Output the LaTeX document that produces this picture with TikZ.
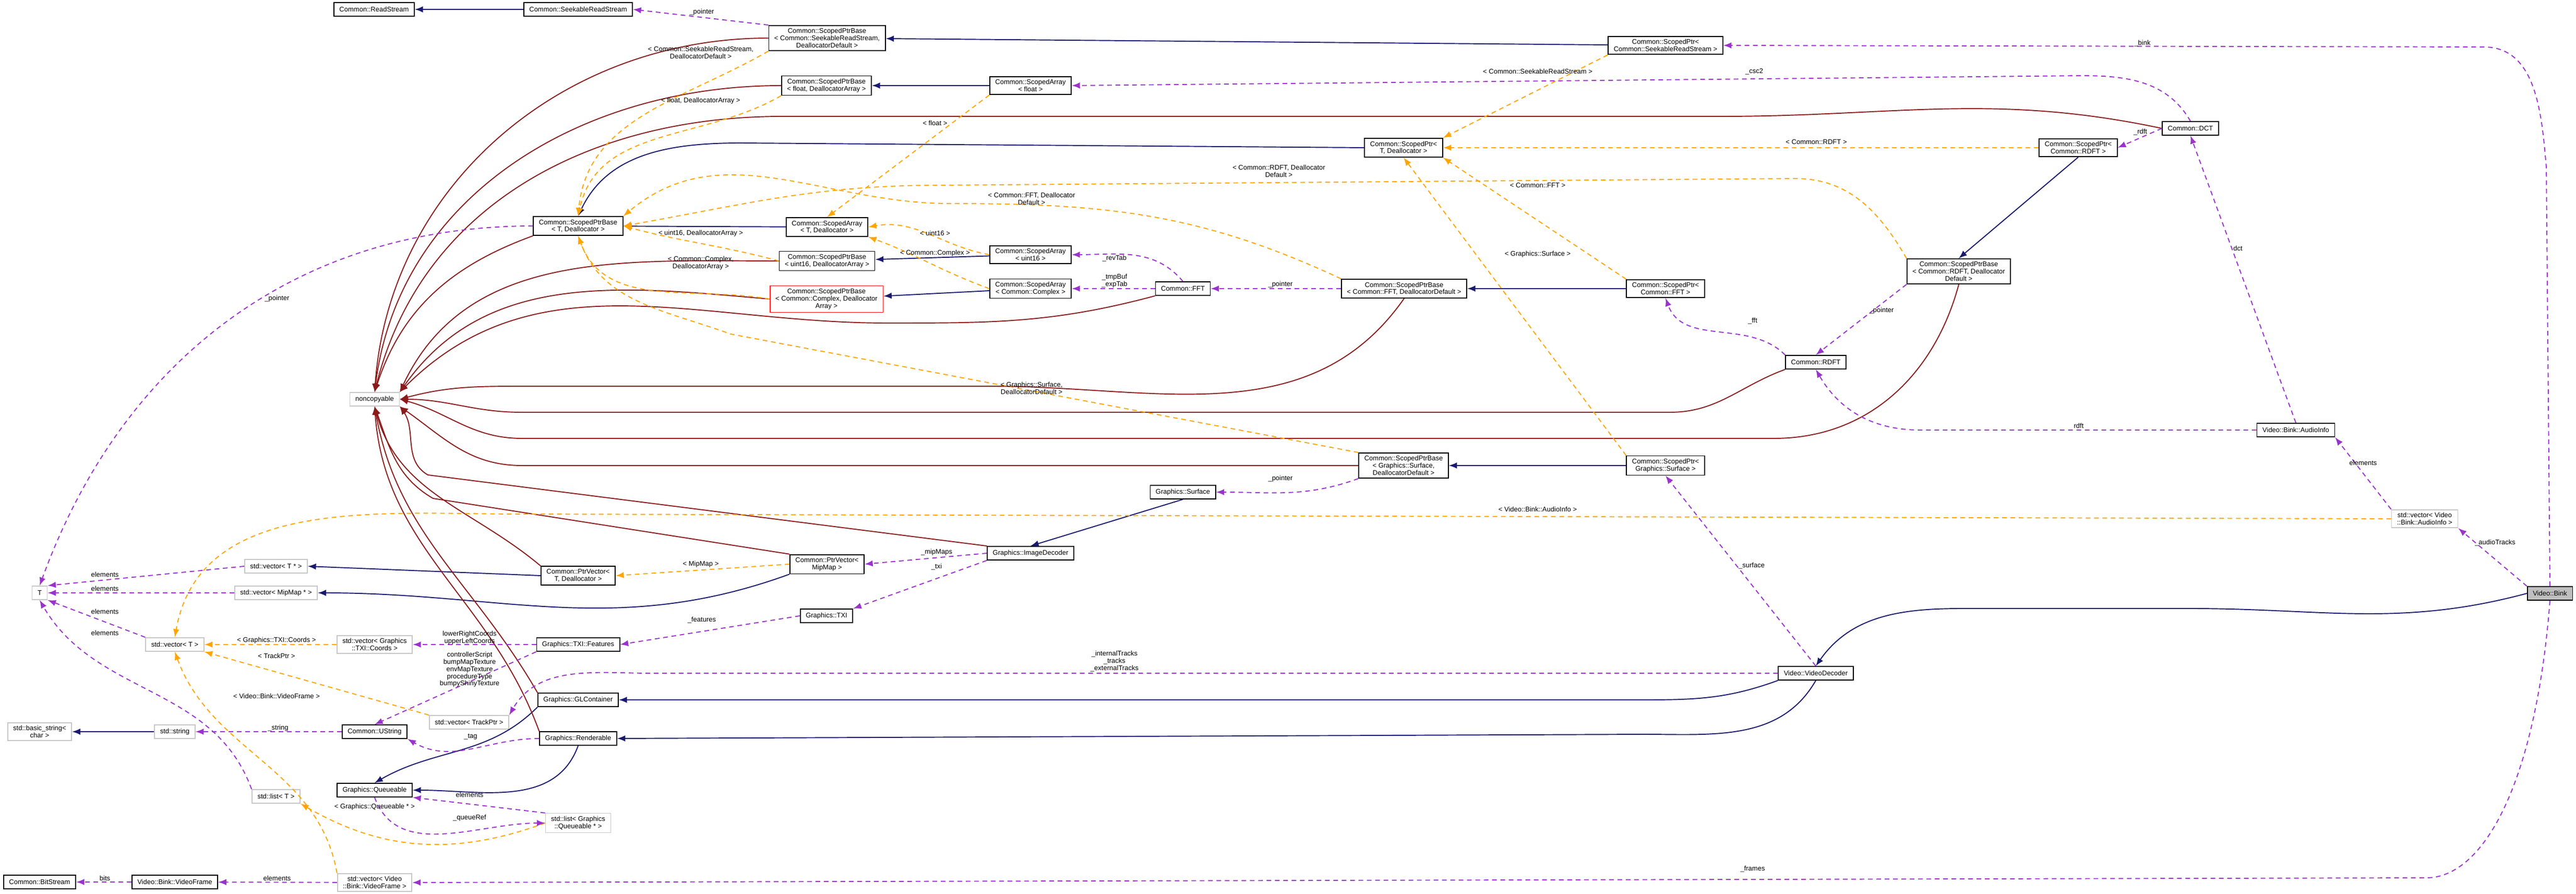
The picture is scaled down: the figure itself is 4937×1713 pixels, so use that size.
\documentclass[tikz,border=0pt]{standalone}
\usepackage{fontspec}
\setmainfont{Liberation Sans}
\usetikzlibrary{arrows}
\newcommand\nodefont{\fontsize{3.7}{3.9}\selectfont}
\definecolor{navy}{HTML}{191970}
\definecolor{darkred}{HTML}{8B1A1A}
\definecolor{tmplorange}{HTML}{FFA500}
\definecolor{usepurple}{HTML}{9A32CD}
\tikzstyle{cls}=[draw=black, rectangle, line width=0.5pt, inner xsep=3pt, inner ysep=1.6pt, align=center, minimum height=0.26cm, font=\nodefont]
\tikzstyle{ext}=[cls, draw=gray!45]
\tikzstyle{bad}=[cls, draw=red]
\tikzstyle{self}=[cls, fill=gray!50]
\tikzstyle{inherit}=[-latex, line width=0.55pt, navy]
\tikzstyle{priv}=[-latex, line width=0.55pt, darkred]
\tikzstyle{tmpl}=[-latex, line width=0.55pt, tmplorange, dash pattern=on 0.09cm off 0.07cm]
\tikzstyle{use}=[-latex, line width=0.55pt, usepurple, dash pattern=on 0.09cm off 0.07cm]
\tikzstyle{lbl}=[font=\nodefont, align=center, inner sep=0pt]

\begin{document}
\begin{tikzpicture}[x=0.01cm, y=0.01cm]
  \useasboundingbox (0,0) rectangle (4937,-1713);

  %% Scoped pointers and arrays
  \draw (717,-18) node[cls] (RS) {Common::ReadStream};
  \draw (1108,-18) node[cls] (SRS) {Common::SeekableReadStream};
  \draw (1585,-73) node[cls] (SPBsrs) {Common::ScopedPtrBase\\< Common::SeekableReadStream,\\ DeallocatorDefault >};
  \draw (1584,-164) node[cls] (SPBflt) {Common::ScopedPtrBase\\< float, DeallocatorArray >};
  \draw (1108,-433) node[cls] (SPBT) {Common::ScopedPtrBase\\< T, Deallocator >};
  \draw (1585,-435) node[cls] (SAT) {Common::ScopedArray\\< T, Deallocator >};
  \draw (1585,-500) node[cls] (SPBu16) {Common::ScopedPtrBase\\< uint16, DeallocatorArray >};
  \draw (1584,-573) node[bad] (SPBcpx) {Common::ScopedPtrBase\\< Common::Complex, Deallocator\\Array >};
  \draw (718,-765) node[ext] (NC) {noncopyable};
  \draw (3192,-87) node[cls] (SPsrs) {Common::ScopedPtr<\\Common::SeekableReadStream >};
  \draw (1975,-164) node[cls] (SAflt) {Common::ScopedArray\\< float >};
  \draw (2690,-283) node[cls] (SPT) {Common::ScopedPtr<\\T, Deallocator >};
  \draw (1975,-488) node[cls] (SAu16) {Common::ScopedArray\\< uint16 >};
  \draw (1975,-553) node[cls] (SAcpx) {Common::ScopedArray\\< Common::Complex >};
  \draw (2267,-553) node[cls] (FFT) {Common::FFT};
  \draw (2691,-553) node[cls] (SPBfft) {Common::ScopedPtrBase\\< Common::FFT, DeallocatorDefault >};
  \draw (3192,-553) node[cls] (SPfft) {Common::ScopedPtr<\\Common::FFT >};
  \draw (2690,-892) node[cls] (SPBsurf) {Common::ScopedPtrBase\\< Graphics::Surface,\\DeallocatorDefault >};
  \draw (3192,-892) node[cls] (SPsurf) {Common::ScopedPtr<\\Graphics::Surface >};
  \draw (2267,-943) node[cls] (Surf) {Graphics::Surface};
  \draw (1975,-1060) node[cls] (ImgDec) {Graphics::ImageDecoder};
  \draw (4198,-246) node[cls] (DCT) {Common::DCT};
  \draw (3983,-283) node[cls] (SPrdft) {Common::ScopedPtr<\\Common::RDFT >};
  \draw (3754,-520) node[cls] (SPBrdft) {Common::ScopedPtrBase\\< Common::RDFT, Deallocator\\Default >};
  \draw (3480,-694) node[cls] (RDFT) {Common::RDFT};

  %% Video
  \draw (4400,-824) node[cls] (AudInfo) {Video::Bink::AudioInfo};
  \draw (4647,-994) node[ext] (VecAud) {std::vector< Video\\::Bink::AudioInfo >};
  \draw (4887,-1137) node[self] (Bink) {Video::Bink};
  \draw (3480,-1290) node[cls] (VidDec) {Video::VideoDecoder};

  %% Containers and graphics
  \draw (76,-1136) node[ext] (T) {T};
  \draw (529,-1085) node[ext] (VecTp) {std::vector< T * >};
  \draw (529,-1136) node[ext] (VecMip) {std::vector< MipMap * >};
  \draw (335,-1235) node[ext] (VecT) {std::vector< T >};
  \draw (718,-1235) node[ext] (VecCoords) {std::vector< Graphics\\::TXI::Coords >};
  \draw (1108,-1103) node[cls] (PVT) {Common::PtrVector<\\T, Deallocator >};
  \draw (1585,-1081) node[cls] (PVmip) {Common::PtrVector<\\MipMap >};
  \draw (1584,-1180) node[cls] (TXI) {Graphics::TXI};
  \draw (1108,-1235) node[cls] (Feat) {Graphics::TXI::Features};
  \draw (899,-1384) node[ext] (VecTrack) {std::vector< TrackPtr >};
  \draw (1108,-1341) node[cls] (GLC) {Graphics::GLContainer};
  \draw (76,-1402) node[ext] (BStr) {std::basic\_string<\\char >};
  \draw (335,-1402) node[ext] (Str) {std::string};
  \draw (718,-1402) node[cls] (UStr) {Common::UString};
  \draw (1108,-1415) node[cls] (Rend) {Graphics::Renderable};
  \draw (718,-1514) node[cls] (Queue) {Graphics::Queueable};
  \draw (529,-1526) node[ext] (ListT) {std::list< T >};
  \draw (1108,-1577) node[ext] (ListQ) {std::list< Graphics\\::Queueable * >};
  \draw (76,-1690) node[cls] (BitS) {Common::BitStream};
  \draw (335,-1690) node[cls] (VFrame) {Video::Bink::VideoFrame};
  \draw (718,-1691) node[ext] (VecVF) {std::vector< Video\\::Bink::VideoFrame >};

  %% Inheritance
  \draw[inherit] (SRS) -- (RS);
  \draw[inherit] (SPsrs) -- (SPBsrs);
  \draw[inherit] (SAflt) -- (SPBflt);
  \draw[inherit] (SPT.west) -- (1420,-274) to[out=180,in=65] (SPBT.north);
  \draw[inherit] (SAT) -- (SPBT);
  \draw[inherit] (SAu16) -- (SPBu16);
  \draw[inherit] (SAcpx) -- (SPBcpx);
  \draw[inherit] (SPfft) -- (SPBfft);
  \draw[inherit] (SPrdft.south) -- (SPBrdft.north);
  \draw[inherit] (SPsurf) -- (SPBsurf);
  \draw[inherit] (Surf.south) -- (ImgDec.north);
  \draw[inherit] (PVT.west) -- (VecTp.east);
  \draw[inherit] (PVmip.south west) to[out=200,in=0] (VecMip.east);
  \draw[inherit] (Str) -- (BStr);
  \draw[inherit] (VidDec.south west) to[out=200,in=0] (3150,-1341) -- (GLC.east);
  \draw[inherit] (VidDec.south) to[out=240,in=0] (3150,-1407) -- (Rend.east);
  \draw[inherit] (GLC.south west) to[out=225,in=30] (Queue.north);
  \draw[inherit] (Rend.south) to[out=250,in=0] (Queue.east);
  \draw[inherit] (Bink.west) to[out=195,in=0] (4200,-1166) -- (3760,-1166) to[out=180,in=55] (VidDec.north);

  %% Private bases
  \draw[priv] (SPBsrs.west) to[out=180,in=86] (NC.north);
  \draw[priv] (SPBflt.west) to[out=180,in=83] (NC.north);
  \draw[priv] (DCT.west) to[out=168,in=0] (3300,-223) -- (1500,-223) to[out=180,in=76] (NC.north);
  \draw[priv] (SPBT.south west) to[out=200,in=72] (NC.north);
  \draw[priv] (SPBu16.west) to[out=180,in=65] (NC.north east);
  \draw[priv] (SPBcpx.west) to[out=175,in=55] (NC.north east);
  \draw[priv] (FFT.south west) to[out=195,in=0] (1700,-619) to[out=180,in=45] (NC.north east);
  \draw[priv] (SPBfft.south) to[out=235,in=0] (1900,-740) -- (1000,-740) to[out=180,in=15] (NC.east);
  \draw[priv] (RDFT.south west) to[out=200,in=0] (3200,-790) -- (1000,-790) to[out=180,in=0] (NC.east);
  \draw[priv] (SPBrdft.south) to[out=255,in=0] (3400,-840) -- (1000,-840) to[out=180,in=-15] (NC.east);
  \draw[priv] (SPBsurf.west) -- (1000,-892) to[out=180,in=-35] (NC.south east);
  \draw[priv] (ImgDec.north west) -- (820,-910) to[out=150,in=-55] (NC.south east);
  \draw[priv] (PVmip.north west) -- (830,-955) to[out=150,in=-70] (NC.south);
  \draw[priv] (PVT.north west) to[out=140,in=-75] (NC.south);
  \draw[priv] (GLC.north west) to[out=120,in=-80] (NC.south);
  \draw[priv] (Rend.north west) to[out=110,in=-86] (NC.south);

  %% Template instances
  \draw[tmpl] (SPBsrs.south west) to[out=210,in=85] (SPBT.north);
  \draw[tmpl] (SPBflt.south west) to[out=210,in=78] (SPBT.north);
  \draw[tmpl] (SPBu16.west) to[out=165,in=-15] (SPBT.east);
  \draw[tmpl] (SPBcpx.west) to[out=170,in=-70] (SPBT.south);
  \draw[tmpl] (SPBfft.north west) to[out=155,in=0] (1820,-390) to[out=180,in=40] (SPBT.north east);
  \draw[tmpl] (SPBrdft.north west) to[out=120,in=0] (3440,-342) -- (1800,-355) to[out=180,in=10] (SPBT.east);
  \draw[tmpl] (SPBsurf.north west) -- (1400,-640) to[out=160,in=-70] (SPBT.south);
  \draw[tmpl] (SAflt.south west) -- (SAT.north);
  \draw[tmpl] (SAu16.west) to[out=170,in=10] (SAT.east);
  \draw[tmpl] (SAcpx.west) to[out=160,in=-20] (SAT.south east);
  \draw[tmpl] (SPsrs.south west) -- (SPT.north east);
  \draw[tmpl] (SPrdft.west) -- (SPT.east);
  \draw[tmpl] (SPfft.north west) -- (SPT.south east);
  \draw[tmpl] (SPsurf.north west) -- (SPT.south);
  \draw[tmpl] (PVmip.west) -- (PVT.east);
  \draw[tmpl] (VecCoords) -- (VecT);
  \draw[tmpl] (VecTrack.north west) -- (VecT.south east);
  \draw[tmpl] (VecVF.north west) to[out=100,in=-70] (VecT.south);
  \draw[tmpl] (VecAud.west) -- (1000,-985) to[out=180,in=80] (VecT.north);
  \draw[tmpl] (ListQ.west) to[out=200,in=-30] (ListT.south east);

  %% Members
  \draw[use] (SPBsrs.north west) -- (SRS.east);
  \draw[use] (SPBT.west) to[out=180,in=70] (T.north);
  \draw[use] (VecTp.west) -- (T.north east);
  \draw[use] (VecMip) -- (T);
  \draw[use] (VecT.north west) -- (T.south east);
  \draw[use] (ListT.north west) to[out=110,in=-60] (T.south);
  \draw[use] (Bink.north) -- (4880,-320) to[out=95,in=0] (4760,-90) -- (SPsrs.east);
  \draw[use] (DCT.north) to[out=120,in=0] (3990,-145) -- (SAflt.east);
  \draw[use] (DCT.west) -- (SPrdft.east);
  \draw[use] (AudInfo.north) -- (DCT.south);
  \draw[use] (AudInfo.west) -- (3680,-824) to[out=180,in=-60] (RDFT.south);
  \draw[use] (SPBrdft.south west) -- (RDFT.north);
  \draw[use] (RDFT.north west) to[out=135,in=-70] (SPfft.south);
  \draw[use] (SPBfft) -- (FFT);
  \draw[use] (FFT.north) to[out=130,in=0] (SAu16.east);
  \draw[use] (FFT) -- (SAcpx);
  \draw[use] (SPBsurf.south west) to[out=200,in=0] (Surf.east);
  \draw[use] (ImgDec.west) -- (PVmip.east);
  \draw[use] (ImgDec.south west) -- (TXI.north east);
  \draw[use] (TXI.west) -- (Feat.east);
  \draw[use] (Feat) -- (VecCoords);
  \draw[use] (Feat.south west) -- (UStr.north);
  \draw[use] (VidDec.west) -- (1250,-1290) to[out=180,in=60] (VecTrack.north east);
  \draw[use] (VidDec.north) -- (SPsurf.south);
  \draw[use] (Rend.west) to[out=180,in=-30] (UStr.south east);
  \draw[use] (UStr) -- (Str);
  \draw[use] (Queue.south) to[out=-70,in=180] (ListQ.west);
  \draw[use] (ListQ.north west) -- (Queue.south east);
  \draw[use] (VFrame) -- (BitS);
  \draw[use] (VecVF) -- (VFrame);
  \draw[use] (Bink.south) .. controls (4860,-1500) and (4760,-1682) .. (4650,-1682) -- (VecVF.east);
  \draw[use] (Bink.north west) -- (VecAud.south east);
  \draw[use] (VecAud.north west) -- (AudInfo.south east);

  %% Edge labels
  \draw (1345,-23) node[lbl] {\_pointer};
  \draw (1343,-101) node[lbl] {< Common::SeekableReadStream,\\DeallocatorDefault >};
  \draw (1343,-193) node[lbl] {< float, DeallocatorArray >};
  \draw (1343,-447) node[lbl] {< uint16, DeallocatorArray >};
  \draw (1343,-504) node[lbl] {< Common::Complex,\\DeallocatorArray >};
  \draw (531,-572) node[lbl] {\_pointer};
  \draw (2947,-137) node[lbl] {< Common::SeekableReadStream >};
  \draw (3362,-137) node[lbl] {\_csc2};
  \draw (1792,-236) node[lbl] {< float >};
  \draw (2451,-328) node[lbl] {< Common::RDFT, Deallocator\\Default >};
  \draw (2947,-355) node[lbl] {< Common::FFT >};
  \draw (1977,-381) node[lbl] {< Common::FFT, Deallocator\\Default >};
  \draw (1792,-447) node[lbl] {< uint16 >};
  \draw (1792,-485) node[lbl] {< Common::Complex >};
  \draw (2136,-495) node[lbl] {\_revTab};
  \draw (2136,-538) node[lbl] {\_tmpBuf\\\_expTab};
  \draw (2454,-545) node[lbl] {\_pointer};
  \draw (2947,-487) node[lbl] {< Graphics::Surface >};
  \draw (3359,-615) node[lbl] {\_fft};
  \draw (1977,-744) node[lbl] {< Graphics::Surface,\\DeallocatorDefault >};
  \draw (2454,-917) node[lbl] {\_pointer};
  \draw (2947,-976) node[lbl] {< Video::Bink::AudioInfo >};
  \draw (1795,-1058) node[lbl] {\_mipMaps};
  \draw (1795,-1086) node[lbl] {\_txi};
  \draw (3357,-1084) node[lbl] {\_surface};
  \draw (2136,-1267) node[lbl] {\_internalTracks\\\_tracks\\\_externalTracks};
  \draw (3359,-1665) node[lbl] {\_frames};
  \draw (4106,-83) node[lbl] {\_bink};
  \draw (4102,-253) node[lbl] {\_rdft};
  \draw (3481,-272) node[lbl] {< Common::RDFT >};
  \draw (4289,-476) node[lbl] {dct};
  \draw (3606,-595) node[lbl] {\_pointer};
  \draw (3984,-816) node[lbl] {rdft};
  \draw (4529,-887) node[lbl] {elements};
  \draw (4782,-1040) node[lbl] {\_audioTracks};
  \draw (201,-1101) node[lbl] {elements};
  \draw (201,-1128) node[lbl] {elements};
  \draw (201,-1172) node[lbl] {elements};
  \draw (201,-1213) node[lbl] {elements};
  \draw (530,-1227) node[lbl] {< Graphics::TXI::Coords >};
  \draw (530,-1257) node[lbl] {< TrackPtr >};
  \draw (530,-1334) node[lbl] {< Video::Bink::VideoFrame >};
  \draw (1343,-1081) node[lbl] {< MipMap >};
  \draw (1345,-1188) node[lbl] {\_features};
  \draw (900,-1222) node[lbl] {lowerRightCoords\\upperLeftCoords};
  \draw (900,-1283) node[lbl] {controllerScript\\bumpMapTexture\\envMapTexture\\procedureType\\bumpyShinyTexture};
  \draw (533,-1395) node[lbl] {\_string};
  \draw (902,-1412) node[lbl] {\_tag};
  \draw (900,-1523) node[lbl] {elements};
  \draw (718,-1546) node[lbl] {< Graphics::Queueable * >};
  \draw (900,-1567) node[lbl] {\_queueRef};
  \draw (201,-1683) node[lbl] {bits};
  \draw (531,-1683) node[lbl] {elements};
\end{tikzpicture}
\end{document}
